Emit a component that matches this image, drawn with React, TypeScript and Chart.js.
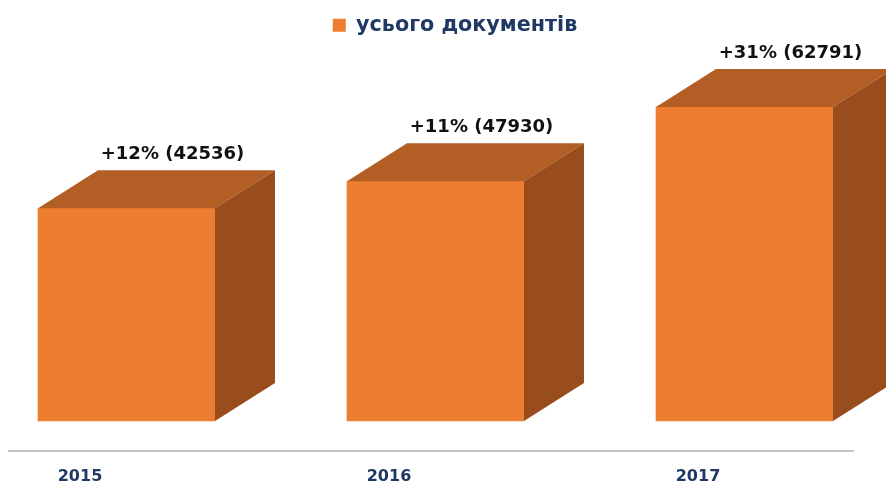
import React, { useEffect, useRef } from "react";
import { Chart, registerables } from "chart.js";

Chart.register(...registerables);

// ---- data ----
const years: number[] = [2015, 2016, 2017];
const totals: number[] = [42536, 47930, 62791];
const growth: string[] = ["+12%", "+11%", "+31%"];
const seriesLabel = "усього документів";

// ---- styles ----
const FRONT = "#ED7D31";
const TOP = "#B35E24";
const SIDE = "#994D1D";
const NAVY = "#1F3864";
const DX = 60;
const DY = 38;
const FONT = '"DejaVu Sans", Verdana, sans-serif';

const bar3d = {
  id: "bar3d",
  afterDatasetsDraw(chart: any) {
    const ctx = chart.ctx as CanvasRenderingContext2D;
    const meta = chart.getDatasetMeta(0);
    meta.data.forEach((el: any, i: number) => {
      const { x, y, base, width } = el.getProps(["x", "y", "base", "width"], true);
      const l = x - width / 2;
      const r = x + width / 2;
      ctx.save();
      ctx.fillStyle = TOP;
      ctx.beginPath();
      ctx.moveTo(l, y);
      ctx.lineTo(l + DX, y - DY);
      ctx.lineTo(r + DX, y - DY);
      ctx.lineTo(r, y);
      ctx.closePath();
      ctx.fill();
      ctx.fillStyle = SIDE;
      ctx.beginPath();
      ctx.moveTo(r, y);
      ctx.lineTo(r + DX, y - DY);
      ctx.lineTo(r + DX, base - DY);
      ctx.lineTo(r, base);
      ctx.closePath();
      ctx.fill();
      ctx.font = `bold 18px ${FONT}`;
      ctx.fillStyle = "#111111";
      ctx.textAlign = "center";
      ctx.textBaseline = "middle";
      ctx.fillText(`${growth[i]} (${totals[i]})`, x + 46, y - DY - 16);
      ctx.restore();
    });
  },
};

const baseline = {
  id: "baseline",
  beforeDatasetsDraw(chart: any) {
    const ctx = chart.ctx as CanvasRenderingContext2D;
    const yb = chart.chartArea.bottom;
    ctx.save();
    ctx.strokeStyle = "#C3C3C3";
    ctx.lineWidth = 2;
    ctx.beginPath();
    ctx.moveTo(8, yb);
    ctx.lineTo(854, yb);
    ctx.stroke();
    ctx.restore();
  },
};

export default function App() {
  const ref = useRef<HTMLCanvasElement | null>(null);
  useEffect(() => {
    if (!ref.current) return;
    const chart = new Chart(ref.current, {
      type: "bar",
      data: {
        datasets: [
          {
            label: seriesLabel,
            data: years.map((yr, i) => ({ x: yr, y: totals[i] })),
            backgroundColor: FRONT,
            borderWidth: 0,
            barThickness: 177,
          },
        ],
      },
      options: {
        responsive: false,
        animation: false,
        layout: { padding: { left: 24, right: 0, top: 5, bottom: 0 } },
        plugins: {
          legend: {
            display: true,
            position: "top",
            labels: {
              boxWidth: 13,
              boxHeight: 13,
              color: NAVY,
              font: { family: FONT, size: 20.7, weight: "bold" },
            },
          },
          tooltip: { enabled: false },
        },
        scales: {
          x: {
            type: "linear",
            offset: false,
            min: years[0] - 0.33172,
            max: years[0] + 2.45792,
            grid: { display: false, drawTicks: false, offset: false },
            border: { display: false },
            afterBuildTicks: (scale: any) => {
              scale.ticks = years.map((v) => ({ value: v }));
            },
            afterFit: (scale: any) => {
              scale.height = 34;
            },
            ticks: {
              padding: 16,
              labelOffset: -46.5,
              color: NAVY,
              font: { family: FONT, size: 16, weight: "bold" },
              callback: (v: any) => String(v),
              maxRotation: 0,
            },
          },
          y: {
            display: false,
            min: -6000,
            max: 75060,
          },
        },
      },
      plugins: [baseline, bar3d],
    } as any);
    return () => chart.destroy();
  }, []);
  return (
    <div style={{ position: "fixed", left: 0, top: 0, width: 886, height: 485, background: "#fff" }}>
      <canvas ref={ref} width={886} height={485} style={{ display: "block" }} />
    </div>
  );
}
